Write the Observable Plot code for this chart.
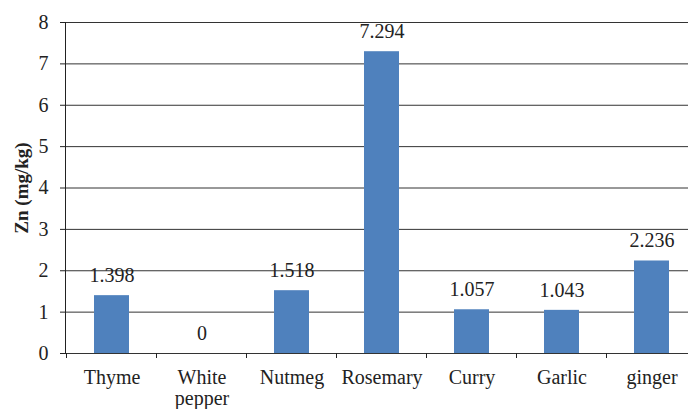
<!DOCTYPE html>
<html>
<head>
<meta charset="utf-8">
<script src="https://cdn.jsdelivr.net/npm/d3@7"></script>
<script src="https://cdn.jsdelivr.net/npm/@observablehq/plot@0.6"></script>
<style>
  html, body { margin: 0; padding: 0; background: #fff; overflow: hidden; width: 688px; height: 409px; }
</style>
</head>
<body>
<div id="chart"></div>
<script>
const categories = ["Thyme", "White pepper", "Nutmeg", "Rosemary", "Curry", "Garlic", "ginger"];
const values = [1.398, 0, 1.518, 7.294, 1.057, 1.043, 2.236];
const valueLabels = ["1.398", "0", "1.518", "7.294", "1.057", "1.043", "2.236"];
const yTicks = [0, 1, 2, 3, 4, 5, 6, 7, 8];
const yTitle = "Zn (mg/kg)";

const data = categories.map((c, i) => ({name: c, value: values[i], label: valueLabels[i]}));
const ink = "#222";
const serif = "Liberation Serif";

// category separator ticks below the baseline (Excel style)
function categoryTicks(index, scales) {
  const x = scales.x, y = scales.y;
  const step = x.step(), bw = x.bandwidth();
  const half = (step - bw) / 2;
  const bounds = categories.map(c => x(c) - half);
  bounds.push(x(categories[categories.length - 1]) + bw + half);
  const g = d3.create("svg:g").attr("stroke", ink).attr("stroke-width", 1);
  const y0 = y(0);
  for (const b of bounds) {
    g.append("line").attr("x1", b).attr("x2", b).attr("y1", y0).attr("y2", y0 + 5);
  }
  return g.node();
}

const chart = Plot.plot({
  width: 688,
  height: 409,
  marginLeft: 65,
  marginRight: 0,
  marginTop: 22,
  marginBottom: 56,
  style: {
    fontFamily: serif,
    fontSize: "20px",
    color: ink,
    background: "#fff",
    overflow: "hidden"
  },
  x: {domain: categories, range: [65, 698], paddingInner: 0.61, paddingOuter: 0.305},
  y: {domain: [0, 8]},
  marks: [
    Plot.ruleY(yTicks, {stroke: "#333", strokeWidth: 1}),
    Plot.barY(data, {x: "name", y: "value", fill: "#4F81BD"}),
    Plot.frame({anchor: "left", stroke: ink}),
    Plot.axisY({ticks: yTicks, tickSize: 5, tickPadding: 12, fontSize: 20, fontFamily: serif, label: null, stroke: ink, fill: ink}),
    Plot.axisX({tickSize: 0, tickPadding: 16, fontSize: 20, fontFamily: serif, label: null, fill: ink,
      tickFormat: d => d.replace(" ", "\n"), lineHeight: 1.05}),
    categoryTicks,
    Plot.text(data, {x: "name", y: "value", text: "label", dy: -20, fontSize: 20, fontFamily: serif, fill: ink}),
    Plot.text([yTitle], {frameAnchor: "left", textAnchor: "middle", rotate: -90, dx: -44, fontSize: 19, fontFamily: serif, fontWeight: "bold", fill: ink})
  ]
});
document.getElementById("chart").appendChild(chart);
</script>
</body>
</html>
